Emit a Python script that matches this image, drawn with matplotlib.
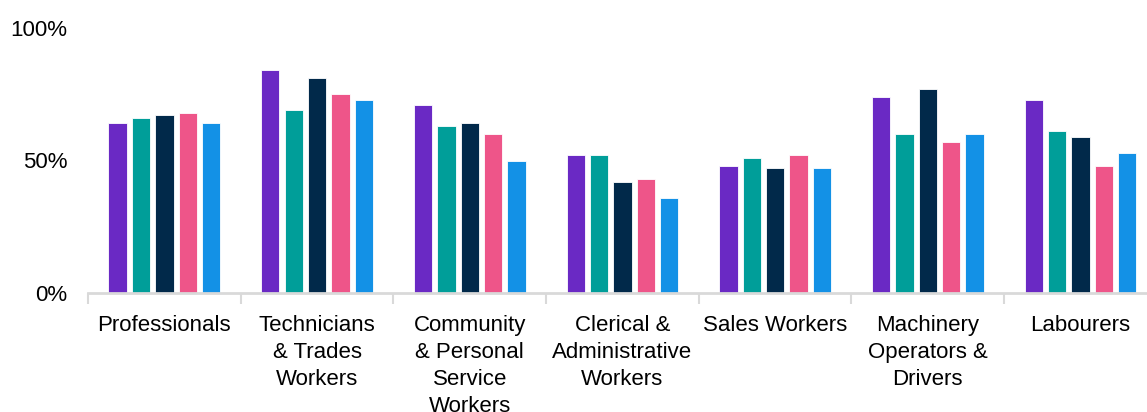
import matplotlib
matplotlib.use("Agg")
import matplotlib.pyplot as plt
import numpy as np

plt.rcParams["font.family"] = ["Liberation Sans", "DejaVu Sans"]

categories = [
    "Professionals",
    "Technicians\n& Trades\nWorkers",
    "Community\n& Personal\nService\nWorkers",
    "Clerical &\nAdministrative\nWorkers",
    "Sales Workers",
    "Machinery\nOperators &\nDrivers",
    "Labourers",
]
series_1 = [64, 84, 71, 52, 48, 74, 73]
series_2 = [66, 69, 63, 52, 51, 60, 61]
series_3 = [67, 81, 64, 42, 47, 77, 59]
series_4 = [68, 75, 60, 43, 52, 57, 48]
series_5 = [64, 73, 50, 36, 47, 60, 53]
series = [series_1, series_2, series_3, series_4, series_5]
colors = ["#6A29C4", "#009E99", "#01294A", "#EE5589", "#1391E6"]

fig = plt.figure(figsize=(11.47, 4.12), dpi=100)
# axes runs slightly past the right edge, as in the reference
ax = fig.add_axes([88 / 1147, 1 - 293 / 412, 7 * 152.7 / 1147, 265 / 412])

x = np.arange(len(categories))
pitch, width = 0.153, 0.12
for i, (vals, c) in enumerate(zip(series, colors)):
    ax.bar(x + (i - 2) * pitch, vals, width=width, color=c,
           edgecolor="white", linewidth=0.6, zorder=2)

ax.set_xlim(-0.5, len(categories) - 0.5)
ax.set_ylim(0, 100)
ax.set_yticks([0, 50, 100])
ax.set_yticklabels(["0%", "50%", "100%"], fontsize=16)
ax.tick_params(axis="y", length=0, pad=15)

ax.set_xticks(x)
ax.set_xticklabels(categories, fontsize=16, linespacing=1.38, va="top")
ax.tick_params(axis="x", which="major", length=0, pad=16)
ax.set_xticks(np.arange(len(categories) + 1) - 0.5, minor=True)
ax.tick_params(axis="x", which="minor", length=8, width=1.5, color="#D9D9D9",
               direction="out")

for s in ["top", "right", "left"]:
    ax.spines[s].set_visible(False)
ax.spines["bottom"].set_color("#D9D9D9")
ax.spines["bottom"].set_linewidth(2)

fig.savefig("out.png", dpi=100, facecolor="white")
